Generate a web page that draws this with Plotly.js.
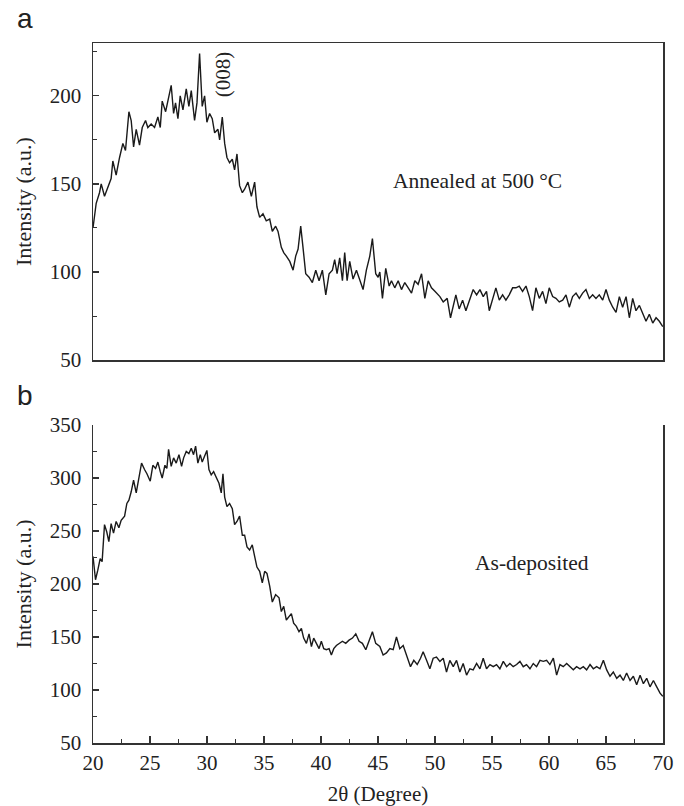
<!DOCTYPE html>
<html>
<head>
<meta charset="utf-8">
<script src="https://cdn.plot.ly/plotly-3.0.1.min.js"></script>
<style>html,body{margin:0;padding:0;background:#fff;}#chart{width:684px;height:806px;}</style>
</head>
<body>
<div id="chart"></div>
<script>
// Panel (a): annealed at 500 °C
const thetaA = [20.00,20.28,20.57,20.72,21.01,21.30,21.59,21.74,22.03,22.33,22.62,22.85,23.15,23.35,23.56,23.79,24.08,24.32,24.61,24.81,25.10,25.40,25.69,25.90,26.07,26.37,26.57,26.86,27.07,27.24,27.45,27.65,27.89,28.18,28.41,28.62,28.91,29.12,29.35,29.58,29.79,29.99,30.23,30.46,30.67,30.96,31.11,31.34,31.55,31.75,31.98,32.22,32.42,32.63,32.86,33.10,33.30,33.59,33.89,34.18,34.38,34.62,34.91,35.20,35.50,35.73,36.02,36.23,36.52,36.73,36.96,37.26,37.55,37.78,37.99,38.22,38.42,38.66,38.95,39.24,39.54,39.83,40.12,40.42,40.71,41.00,41.20,41.41,41.64,41.88,42.08,42.29,42.52,42.81,43.11,43.40,43.69,43.98,44.28,44.51,44.80,45.01,45.16,45.39,45.68,45.98,46.18,46.47,46.77,47.06,47.35,47.65,47.94,48.23,48.52,48.82,49.11,49.40,49.69,49.99,50.43,50.72,51.07,51.36,51.60,51.83,52.12,52.42,52.71,53.00,53.35,53.65,53.94,54.23,54.52,54.76,55.05,55.34,55.64,55.93,56.22,56.51,56.81,57.10,57.39,57.68,57.98,58.27,58.56,58.85,59.15,59.44,59.73,60.02,60.32,60.61,60.90,61.20,61.49,61.78,62.07,62.37,62.66,62.95,63.24,63.54,63.83,64.12,64.41,64.71,65.00,65.29,65.59,65.88,66.17,66.46,66.76,67.05,67.34,67.63,67.93,68.22,68.51,68.80,69.10,69.39,69.68,69.98];
const intensityA = [125,139,145,150,143,148,153,163,155,165,173,169,191,186,171,181,172,182,186,182,184,182,188,182,197,191,198,206,190,196,187,200,192,204,194,203,186,196,224,194,200,185,190,187,179,181,175,188,173,165,162,164,158,167,149,145,147,151,143,151,137,131,133,129,130,123,126,123,114,111,109,106,101,109,113,126,114,99,97,94,101,95,101,87,99,101,107,99,108,95,111,95,106,96,101,95,90,101,109,119,99,97,100,85,102,92,95,91,95,90,94,91,88,95,93,99,85,95,91,89,86,83,85,74,80,87,79,84,78,84,90,87,90,86,89,78,84,91,84,87,84,87,91,91,92,89,92,86,78,91,85,89,82,91,86,85,83,84,87,80,86,88,85,88,90,85,87,85,87,84,90,84,80,77,86,80,86,74,85,78,81,76,72,76,71,74,72,69];

// Panel (b): as-deposited
const thetaB = [20.00,20.22,20.42,20.63,20.80,21.01,21.21,21.39,21.59,21.80,22.03,22.27,22.47,22.77,22.97,23.15,23.35,23.56,23.79,24.02,24.26,24.52,24.73,25.02,25.25,25.49,25.69,25.90,26.07,26.31,26.48,26.63,26.86,27.07,27.30,27.54,27.77,27.95,28.18,28.41,28.62,28.82,29.00,29.20,29.41,29.58,29.79,29.99,30.17,30.37,30.58,30.81,31.05,31.25,31.40,31.55,31.75,31.98,32.22,32.42,32.63,32.86,33.10,33.30,33.51,33.74,33.97,34.18,34.38,34.62,34.85,35.06,35.26,35.50,35.73,36.02,36.32,36.52,36.73,36.96,37.20,37.40,37.60,37.84,38.07,38.28,38.48,38.72,38.95,39.16,39.36,39.59,39.83,40.03,40.24,40.47,40.71,40.91,41.12,41.35,41.58,41.88,42.17,42.46,42.76,43.05,43.34,43.63,43.93,44.22,44.51,44.80,45.16,45.45,45.74,46.04,46.33,46.62,46.91,47.21,47.56,47.85,48.14,48.44,48.73,48.96,49.26,49.55,49.84,50.13,50.43,50.72,51.01,51.30,51.60,51.89,52.18,52.47,52.77,53.06,53.35,53.65,53.94,54.23,54.52,54.82,55.11,55.40,55.69,55.99,56.28,56.57,56.86,57.16,57.45,57.74,58.03,58.33,58.62,58.91,59.21,59.50,59.79,60.08,60.38,60.67,60.96,61.25,61.55,61.84,62.13,62.42,62.72,63.01,63.30,63.60,63.89,64.18,64.47,64.77,65.06,65.35,65.64,65.94,66.23,66.52,66.81,67.11,67.40,67.69,67.99,68.28,68.57,68.86,69.16,69.45,69.74,69.98];
const intensityB = [226,204,213,224,221,256,249,240,257,248,259,253,260,264,276,279,287,298,286,301,314,308,304,297,312,309,315,306,300,312,309,327,311,319,314,322,311,319,325,323,328,322,330,314,322,315,320,326,308,303,306,300,295,286,304,282,273,276,271,256,259,264,246,246,235,232,237,226,216,212,201,212,210,198,183,190,187,174,179,166,169,172,163,160,155,158,149,144,153,141,149,144,139,146,139,138,139,133,139,142,144,146,144,147,149,153,146,144,138,147,155,144,141,133,135,139,138,150,139,142,130,122,128,124,130,136,128,120,130,131,127,130,117,128,122,128,117,125,114,120,119,125,120,130,120,124,122,124,120,127,122,125,122,124,127,122,124,120,125,122,128,127,128,124,130,114,124,122,125,122,119,122,120,122,119,124,120,122,120,128,119,113,117,111,114,109,116,109,113,105,114,106,111,103,109,103,97,94];

// Tick labels
const xTicks = [20,25,30,35,40,45,50,55,60,65,70];
const xMinorTicks = [22.5,27.5,32.5,37.5,42.5,47.5,52.5,57.5,62.5,67.5];
const yTicksA = [50,100,150,200];
const yMinorA = [75,125,175,225];
const yTicksB = [50,100,150,200,250,300,350];
const yMinorB = [75,125,175,225,275,325];

const ink = '#222';
const axisCol = '#333';
const serif = 'Liberation Serif, Times New Roman, serif';
const sans = 'Liberation Sans, Arial, sans-serif';

const traces = [
  {x: thetaA, y: intensityA, xaxis: 'x', yaxis: 'y', type: 'scatter', mode: 'lines',
   line: {color: '#1a1a1a', width: 1.4}, hoverinfo: 'skip'},
  {x: thetaB, y: intensityB, xaxis: 'x2', yaxis: 'y2', type: 'scatter', mode: 'lines',
   line: {color: '#1a1a1a', width: 1.4}, hoverinfo: 'skip'}
];

const baseAxis = {
  showgrid: false, zeroline: false, showline: true, linecolor: axisCol, linewidth: 1.5,
  tickcolor: axisCol, tickwidth: 1.2, tickfont: {family: serif, size: 21, color: ink}
};
const yTitleFont = {family: serif, size: 22, color: ink};

const layout = {
  width: 684, height: 806,
  margin: {l: 93, r: 21, t: 43, b: 63},
  paper_bgcolor: '#fff', plot_bgcolor: '#fff',
  showlegend: false,
  font: {family: serif, size: 21, color: ink},
  xaxis: Object.assign({}, baseAxis, {
    anchor: 'y', domain: [0, 1], range: [20, 70], mirror: true,
    ticks: '', showticklabels: false
  }),
  yaxis: Object.assign({}, baseAxis, {
    anchor: 'x', domain: [0.5471, 1], range: [50, 230], mirror: true,
    tickmode: 'array', tickvals: yTicksA, ticks: 'inside', ticklen: 6, ticklabelstandoff: 6,
    minor: {tickmode: 'array', tickvals: yMinorA, ticks: 'inside', ticklen: 4, tickcolor: axisCol, tickwidth: 1},
    title: {text: 'Intensity (a.u.)', font: yTitleFont, standoff: 12}
  }),
  xaxis2: Object.assign({}, baseAxis, {
    anchor: 'y2', domain: [0, 1], range: [20, 70], mirror: false,
    tickmode: 'array', tickvals: xTicks, ticks: 'inside', ticklen: 7,
    minor: {tickmode: 'array', tickvals: xMinorTicks, ticks: 'inside', ticklen: 4, tickcolor: axisCol, tickwidth: 1},
    title: {text: '2θ (Degree)', font: {family: serif, size: 21, color: ink}, standoff: 14}
  }),
  yaxis2: Object.assign({}, baseAxis, {
    anchor: 'x2', domain: [0, 0.4543], range: [50, 350], mirror: true,
    tickmode: 'array', tickvals: yTicksB, ticks: 'inside', ticklen: 6, ticklabelstandoff: 6,
    minor: {tickmode: 'array', tickvals: yMinorB, ticks: 'inside', ticklen: 4, tickcolor: axisCol, tickwidth: 1},
    title: {text: 'Intensity (a.u.)', font: yTitleFont, standoff: 12}
  }),
  annotations: [
    {text: 'a', xref: 'paper', yref: 'paper', x: -0.12, y: 1.035, xanchor: 'center', yanchor: 'middle',
     showarrow: false, font: {family: sans, size: 28, color: ink}},
    {text: 'b', xref: 'paper', yref: 'paper', x: -0.12, y: 0.496, xanchor: 'center', yanchor: 'middle',
     showarrow: false, font: {family: sans, size: 28, color: ink}},
    {text: 'Annealed at 500 °C', xref: 'x', yref: 'y', x: 53.7, y: 151.7, xanchor: 'center', yanchor: 'middle',
     showarrow: false, font: {family: serif, size: 21.5, color: ink}},
    {text: '(008)', xref: 'x', yref: 'y', x: 31.37, y: 212, xanchor: 'center', yanchor: 'middle', textangle: -90,
     showarrow: false, font: {family: serif, size: 21, color: ink}},
    {text: 'As-deposited', xref: 'x2', yref: 'y2', x: 58.5, y: 219.8, xanchor: 'center', yanchor: 'middle',
     showarrow: false, font: {family: serif, size: 21.5, color: ink}}
  ]
};

Plotly.newPlot('chart', traces, layout, {staticPlot: true, displayModeBar: false});
</script>
</body>
</html>
